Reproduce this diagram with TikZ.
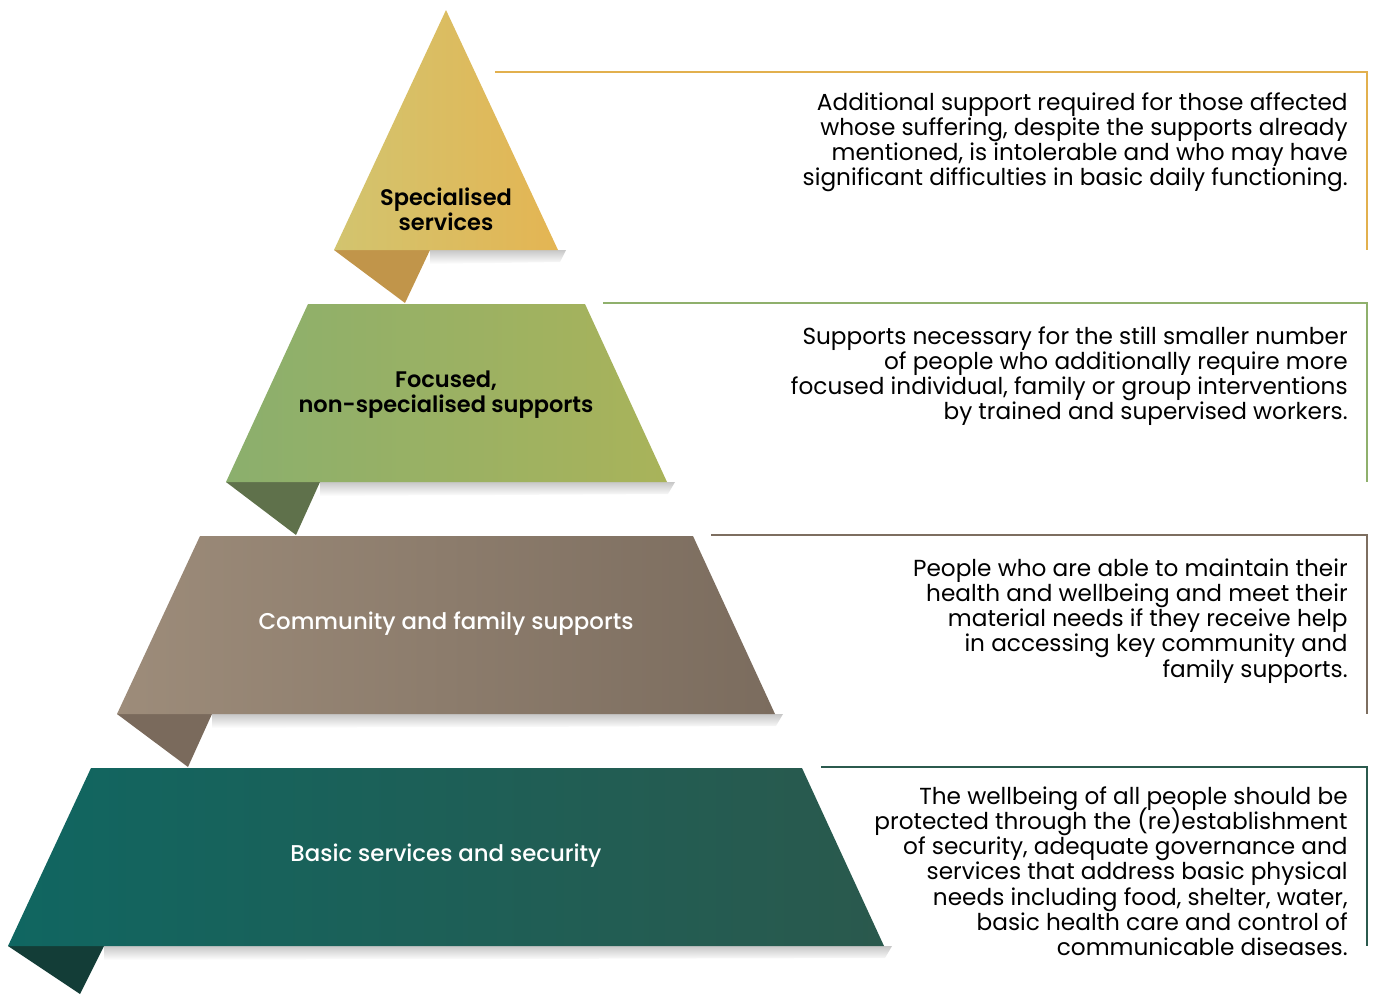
\documentclass[tikz,border=0pt]{standalone}
\usepackage{fontspec}
\setmainfont{Poppins}
\newfontfamily\medfont{Poppins Medium}
\newfontfamily\semifont{Poppins SemiBold}
\setlength{\lineskiplimit}{-10pt}
\definecolor{goldL}{HTML}{D2C46F}
\definecolor{goldR}{HTML}{E4B553}
\definecolor{goldF}{HTML}{C1954A}
\definecolor{goldLine}{HTML}{E2B04E}
\definecolor{greenL}{HTML}{8BAF6D}
\definecolor{greenR}{HTML}{A9B35A}
\definecolor{greenF}{HTML}{5F714B}
\definecolor{greenLine}{HTML}{8FB06C}
\definecolor{brownL}{HTML}{9D8C7A}
\definecolor{brownR}{HTML}{7B6C5E}
\definecolor{brownF}{HTML}{7A6A5C}
\definecolor{brownLine}{HTML}{7D6E60}
\definecolor{tealL}{HTML}{106661}
\definecolor{tealR}{HTML}{2A594D}
\definecolor{tealF}{HTML}{133D37}
\definecolor{tealLine}{HTML}{2B5A4E}

\begin{document}
\begin{tikzpicture}[x=0.02cm, y=-0.02cm,
            shadow/.style = {top color=black!22, bottom color=white, draw=none},
            bar/.style = {line width=1.1pt},
            lbl/.style = {align=center, inner sep=0pt,
                font=\semifont\fontsize{12.8}{14.3}\selectfont},
            wlbl/.style = {lbl, white,
                font=\medfont\fontsize{13}{14.3}\selectfont},
            desc/.style = {align=right, anchor=north east, inner sep=0pt,
                font=\fontsize{13.2}{14.4}\selectfont}]
            \useasboundingbox (0,0) rectangle (1375,994);
            % specialised services
            \shade[shadow] (430,250) -- (566,250) -- (560,262) -- (430,264) -- cycle;
            \fill[goldF] (334,250) -- (430,250) -- (405,303) -- cycle;
            \shade[left color=goldL, right color=goldR]
                (446,10) -- (558,250) -- (334,250) -- cycle;
            \node[lbl] (t1) at (446,209) {Specialised\\services};
            \coordinate (a1) at (495,72);
            \coordinate (b1) at (1367,250);
            \draw[bar, goldLine] (a1) -| (b1);
            \node[desc] (d1) at (1348,92) {Additional support required for those affected\\
                whose suffering, despite the supports already\\
                mentioned, is intolerable and who may have\\
                significant difficulties in basic daily functioning.};
            % focused supports
            \shade[shadow] (320,482) -- (675,482) -- (668,494) -- (320,496) -- cycle;
            \fill[greenF] (226,482) -- (320,482) -- (296,535) -- cycle;
            \shade[left color=greenL, right color=greenR]
                (308,304) -- (585,304) -- (667,482) -- (226,482) -- cycle;
            \node[lbl] (t2) at (446,395) {Focused,\\non-specialised supports};
            \coordinate (a2) at (603,303);
            \coordinate (b2) at (1367,482);
            \draw[bar, greenLine] (a2) -| (b2);
            \node[desc] (d2) at (1348,326) {Supports necessary for the still smaller number\\
                of people who additionally require more\\
                focused individual, family or group interventions\\
                by trained and supervised workers.};
            % community and family
            \shade[shadow] (212,714) -- (783,714) -- (776,726) -- (212,728) -- cycle;
            \fill[brownF] (117,714) -- (212,714) -- (188,767) -- cycle;
            \shade[left color=brownL, right color=brownR]
                (200,536) -- (693,536) -- (775,714) -- (117,714) -- cycle;
            \node[wlbl] (t3) at (446,624) {Community and family supports};
            \coordinate (a3) at (711,535);
            \coordinate (b3) at (1367,714);
            \draw[bar, brownLine] (a3) -| (b3);
            \node[desc] (d3) at (1348,558) {People who are able to maintain their\\
                health and wellbeing and meet their\\
                material needs if they receive help\\
                in accessing key community and\\
                family supports.};
            % basic services
            \shade[shadow] (104,946) -- (892,946) -- (885,958) -- (104,960) -- cycle;
            \fill[tealF] (8,946) -- (104,946) -- (80,994) -- cycle;
            \shade[left color=tealL, right color=tealR]
                (91,768) -- (802,768) -- (884,946) -- (8,946) -- cycle;
            \node[wlbl] (t4) at (446,856) {Basic services and security};
            \coordinate (a4) at (821,767);
            \coordinate (b4) at (1367,946);
            \draw[bar, tealLine] (a4) -| (b4);
            \node[desc] (d4) at (1348,786) {The wellbeing of all people should be\\
                protected through the (re)establishment\\
                of security, adequate governance and\\
                services that address basic physical\\
                needs including food, shelter, water,\\
                basic health care and control of\\
                communicable diseases.};
        \end{tikzpicture}
\end{document}
